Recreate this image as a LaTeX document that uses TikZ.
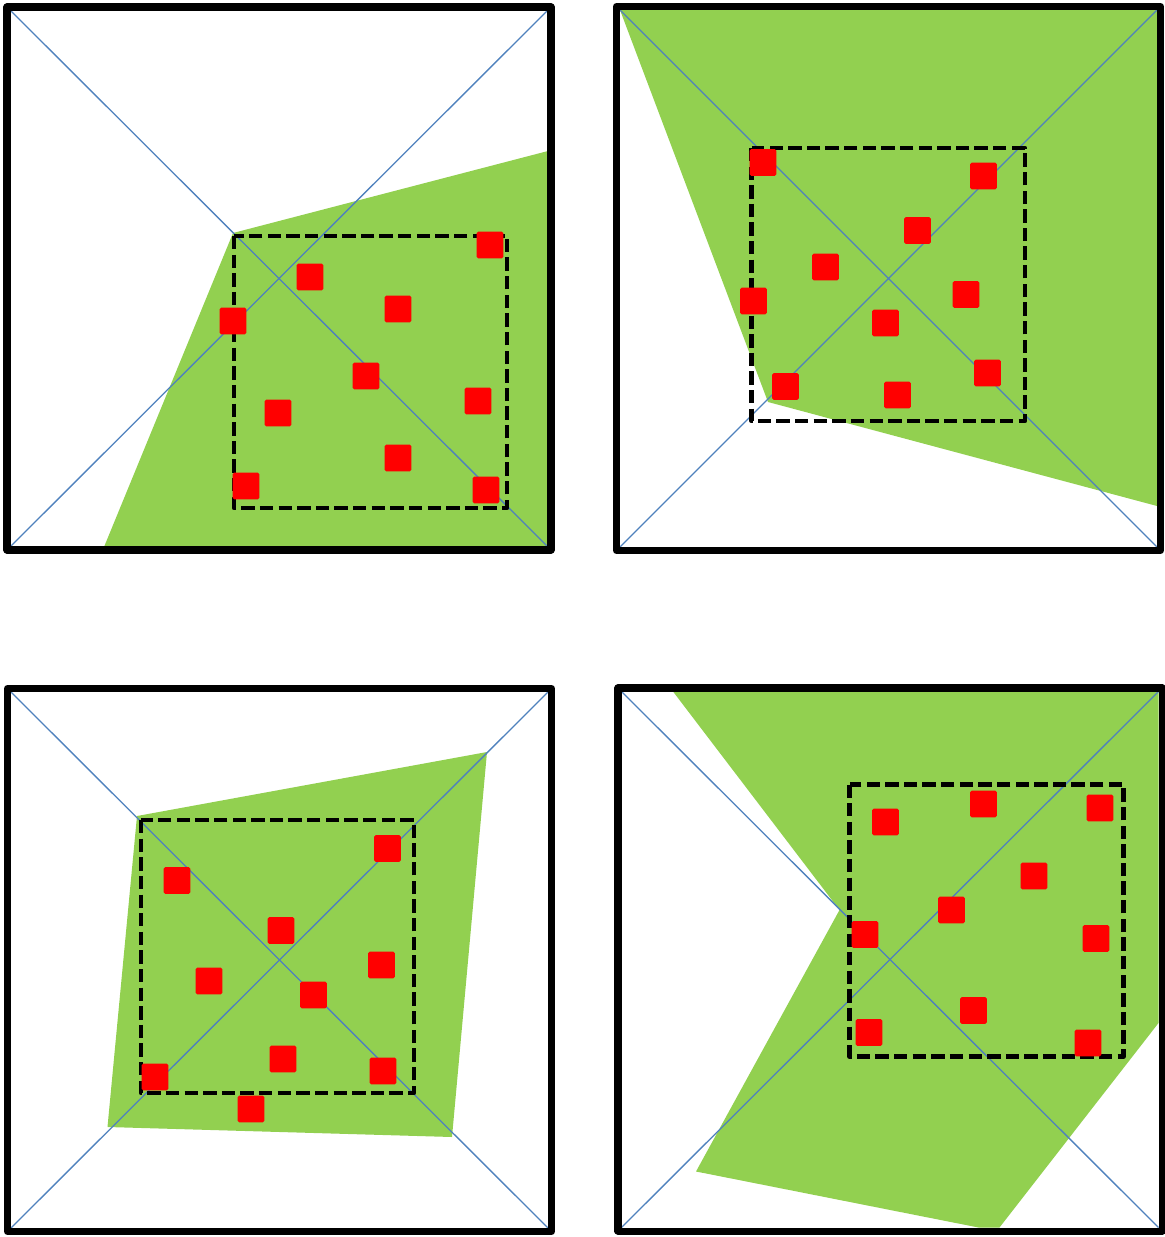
\documentclass[tikz,border=0pt]{standalone}
\usepackage{xcolor}
\usepackage{tikz}

\definecolor{leaf}{HTML}{92D050}
\definecolor{diag}{HTML}{4F81BD}

\tikzset{
  frame/.style={line width=4pt, line join=round},
  cross/.style={diag, line width=0.75pt},
  window/.style={line width=2.5pt, dash pattern=on 7.6pt off 3pt, line join=round},
  region/.style={fill=leaf},
  pt/.style={rectangle, fill=red, draw=none, minimum size=15.3pt, inner sep=0pt, rounded corners=1pt},
}

\begin{document}
\begin{tikzpicture}[x=0.02cm, y=-0.02cm]
    \useasboundingbox (0,0) rectangle (1165,1237);

    % top left
    \fill[region] (233,233) -- (548,151) -- (548,547) -- (104,547) -- cycle;
    \draw[cross] (10,10) -- (548,547) (548,10) -- (10,547);
    \draw[window] (234,236) rectangle (507,508);
    \foreach \x/\y [count=\k] in {490/245,310/277,398/309,233/321,366/376,278/413,478/401,398/458,246/486,486/490} {
        \node[pt] (a\k) at (\x,\y) {};
    }
    \draw[frame] (7,7) rectangle (551,550);

    % top right
    \fill[region] (620,10) -- (1157,10) -- (1157,506) -- (768,402) -- cycle;
    \draw[cross] (620,10) -- (1157,547) (1157,10) -- (620,547);
    \draw[window] (751.5,148) rectangle (1025,421);
    \foreach \x/\y [count=\k] in {763/162.5,983.5/176,917.5/230.5,825.5/267,753.5/301,966/294.5,885.5/323,785.5/386.5,897.5/395,987.5/373} {
        \node[pt] (b\k) at (\x,\y) {};
    }
    \draw[frame] (616.5,6.5) rectangle (1160.5,550.5);

    % bottom left
    \fill[region] (137,816) -- (487,752) -- (452,1137) -- (107.5,1127) -- cycle;
    \draw[cross] (11,692) -- (548,1228) (548,692) -- (11,1228);
    \draw[window] (141,820) rectangle (414,1093);
    \foreach \x/\y [count=\k] in {177/880.5,387.5/848.5,281/930.5,381.5/965,209/981,313.5/995,283/1059,383/1071,155/1077,251/1109} {
        \node[pt] (c\k) at (\x,\y) {};
    }
    \draw[frame] (7.5,688.5) rectangle (551.5,1231.5);

    % bottom right
    \fill[region] (673,691.5) -- (1158.5,691.5) -- (1158.5,1023) -- (999.5,1227.5) -- (978.5,1227.5) -- (696,1171.5) -- (839.5,910) -- cycle;
    \draw[cross] (621.5,691.5) -- (1158.5,1227.5) (1158.5,691.5) -- (621.5,1227.5);
    \draw[window] (849.5,784.5) rectangle (1123.5,1056.5);
    \foreach \x/\y [count=\k] in {885.5/822,983.5/804,1100/808,1034/876,951.5/910,865/934.5,1096/938.5,973.5/1010.5,869/1032.5,1088/1043} {
        \node[pt] (d\k) at (\x,\y) {};
    }
    \draw[frame] (618,688) rectangle (1162,1231);
\end{tikzpicture}
\end{document}
